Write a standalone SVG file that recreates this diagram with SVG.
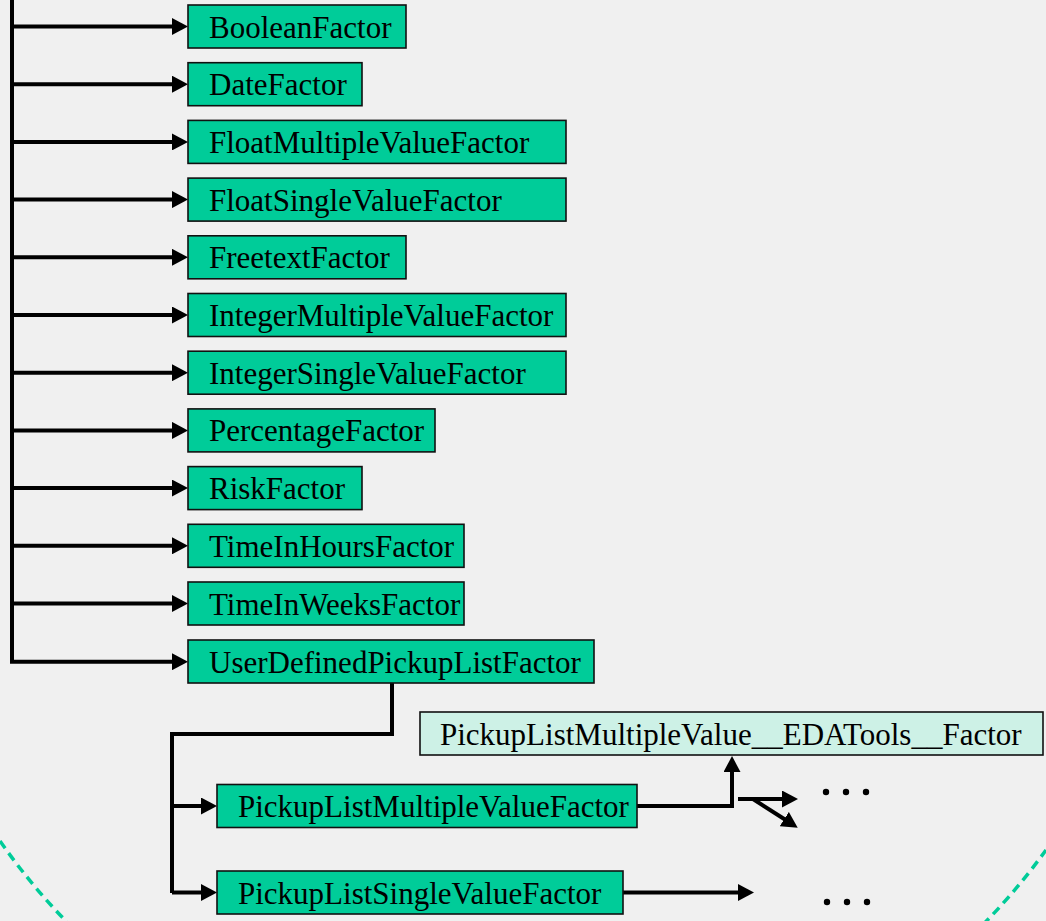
<svg xmlns="http://www.w3.org/2000/svg" width="1046" height="921" viewBox="0 0 1046 921">
  <style>
    .box { fill: #00cc99; stroke: #111; stroke-width: 1.6; }
    .box2 { fill: #cdf1e6; stroke: #111; stroke-width: 1.6; }
    .lbl { font-family: "Liberation Serif", "Times New Roman", serif; font-size: 31px; fill: #000; }
    .wire { fill: none; stroke: #000; stroke-width: 4; stroke-linejoin: miter; }
    .arr { fill: none; stroke: #000; stroke-width: 4; marker-end: url(#head); }
    .dot { fill: #000; }
  </style>
  <defs>
    <marker id="head" viewBox="0 0 16 17" markerWidth="16" markerHeight="17" refX="6" refY="8.5" orient="auto" markerUnits="userSpaceOnUse">
      <path d="M0,0 L16,8.5 L0,17 z" fill="#000"/>
    </marker>
  </defs>

  <rect x="0" y="0" width="1046" height="921" fill="#f0f0f0"/>

  <!-- dashed boundary arc -->
  <path d="M0,841 A641,641 0 0 0 1046,850" fill="none" stroke="#00cc99" stroke-width="3.5" stroke-dasharray="9 6"/>

  <!-- connectors -->
  <g id="connectors">
    <path class="wire" d="M12,0 V662"/>
    <path class="arr" d="M12,26.5 H178"/>
    <path class="arr" d="M12,84.2 H178"/>
    <path class="arr" d="M12,141.9 H178"/>
    <path class="arr" d="M12,199.6 H178"/>
    <path class="arr" d="M12,257.3 H178"/>
    <path class="arr" d="M12,315 H178"/>
    <path class="arr" d="M12,372.7 H178"/>
    <path class="arr" d="M12,430.4 H178"/>
    <path class="arr" d="M12,488.1 H178"/>
    <path class="arr" d="M12,545.8 H178"/>
    <path class="arr" d="M12,603.5 H178"/>
    <path class="arr" d="M10,661.7 H178"/>

    <path class="wire" d="M392,683 V734 H172 V893"/>
    <path class="arr" d="M172,806 H207"/>
    <path class="arr" d="M172,892.5 H207"/>

    <path class="arr" d="M637,806 H732 V766"/>
    <path class="arr" d="M738,799 H788"/>
    <path class="arr" d="M753,799 L789.3,822.3"/>
    <path class="arr" d="M623,892.5 H744"/>
  </g>

  <!-- nodes -->
  <g id="n-boolean"><rect class="box" x="188" y="5" width="218" height="43"/><text class="lbl" x="209" y="37.5">BooleanFactor</text></g>
  <g id="n-date"><rect class="box" x="188" y="62.7" width="174" height="43"/><text class="lbl" x="209" y="95.2">DateFactor</text></g>
  <g id="n-floatmulti"><rect class="box" x="188" y="120.4" width="378" height="43"/><text class="lbl" x="209" y="152.9">FloatMultipleValueFactor</text></g>
  <g id="n-floatsingle"><rect class="box" x="188" y="178.1" width="378" height="43"/><text class="lbl" x="209" y="210.6">FloatSingleValueFactor</text></g>
  <g id="n-freetext"><rect class="box" x="188" y="235.8" width="218" height="43"/><text class="lbl" x="209" y="268.3">FreetextFactor</text></g>
  <g id="n-intmulti"><rect class="box" x="188" y="293.5" width="378" height="43"/><text class="lbl" x="209" y="326">IntegerMultipleValueFactor</text></g>
  <g id="n-intsingle"><rect class="box" x="188" y="351.2" width="378" height="43"/><text class="lbl" x="209" y="383.7">IntegerSingleValueFactor</text></g>
  <g id="n-percentage"><rect class="box" x="188" y="408.9" width="247" height="43"/><text class="lbl" x="209" y="441.4">PercentageFactor</text></g>
  <g id="n-risk"><rect class="box" x="188" y="466.6" width="174" height="43"/><text class="lbl" x="209" y="499.1">RiskFactor</text></g>
  <g id="n-timehours"><rect class="box" x="188" y="524.3" width="276" height="43"/><text class="lbl" x="209" y="556.8">TimeInHoursFactor</text></g>
  <g id="n-timeweeks"><rect class="box" x="188" y="582" width="276" height="43"/><text class="lbl" x="209" y="614.5">TimeInWeeksFactor</text></g>
  <g id="n-userdefined"><rect class="box" x="188" y="640" width="406" height="43"/><text class="lbl" x="209" y="672.5">UserDefinedPickupListFactor</text></g>

  <g id="n-edatools"><rect class="box2" x="420" y="712" width="623" height="43"/><text class="lbl" x="440" y="744.5">PickupListMultipleValue__EDATools__Factor</text></g>
  <g id="n-plmulti"><rect class="box" x="217" y="784.5" width="420" height="43"/><text class="lbl" x="238" y="817">PickupListMultipleValueFactor</text></g>
  <g id="n-plsingle"><rect class="box" x="217" y="871" width="406" height="43"/><text class="lbl" x="238" y="903.5">PickupListSingleValueFactor</text></g>

  <!-- ellipses -->
  <g id="more-1"><circle class="dot" cx="826" cy="792" r="3.2"/><circle class="dot" cx="846" cy="792" r="3.2"/><circle class="dot" cx="866" cy="792" r="3.2"/></g>
  <g id="more-2"><circle class="dot" cx="827" cy="902" r="3.2"/><circle class="dot" cx="847" cy="902" r="3.2"/><circle class="dot" cx="867" cy="902" r="3.2"/></g>
</svg>
